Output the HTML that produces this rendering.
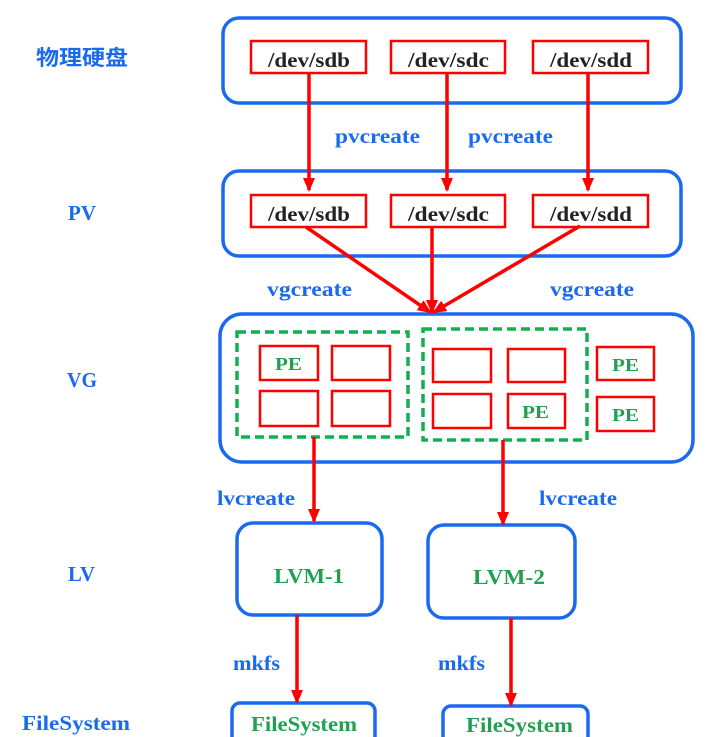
<!DOCTYPE html>
<html><head><meta charset="utf-8"><style>body{margin:0;background:#fff}svg{display:block}</style></head><body>
<svg width="720" height="737" viewBox="0 0 720 737" xmlns="http://www.w3.org/2000/svg" font-family="Liberation Serif, 'Noto Serif CJK SC', serif" font-weight="bold">
<defs><marker id="b" markerWidth="14" markerHeight="12" refX="12" refY="6" orient="auto" markerUnits="userSpaceOnUse"><path d="M0,0 L14,6 L0,12 z" fill="#f00"/></marker></defs>
<g fill="none" stroke="#1a6af0" stroke-width="3.5">
<rect x="223" y="18" width="458" height="85" rx="16"/>
<rect x="223" y="171" width="458" height="85" rx="16"/>
<rect x="220" y="314" width="473" height="148" rx="22"/>
<rect x="237" y="523" width="145" height="92" rx="16"/>
<rect x="428" y="525" width="147" height="93" rx="16"/>
<rect x="232" y="703" width="143" height="50" rx="8"/>
<rect x="443" y="706" width="145" height="50" rx="8"/>
</g>
<g fill="none" stroke="#f00" stroke-width="2.5">
<rect x="251" y="41" width="115" height="32"/><rect x="391" y="41" width="114" height="32"/><rect x="533" y="41" width="115" height="32"/>
<rect x="251" y="195" width="115" height="32"/><rect x="391" y="195" width="114" height="32"/><rect x="533" y="195" width="115" height="32"/>
<rect x="260" y="346" width="58" height="34"/><rect x="332" y="346" width="58" height="34"/>
<rect x="260" y="391" width="58" height="35"/><rect x="332" y="391" width="58" height="35"/>
<rect x="433" y="349" width="58" height="33"/><rect x="508" y="349" width="57" height="33"/>
<rect x="433" y="394" width="58" height="34"/><rect x="508" y="394" width="57" height="34"/>
<rect x="597" y="347" width="57" height="33"/><rect x="597" y="397" width="57" height="34"/>
</g>
<g fill="none" stroke="#10b050" stroke-width="3.5" stroke-dasharray="9,5">
<rect x="237" y="332" width="171" height="105"/><rect x="423" y="329" width="164" height="111"/>
</g>
<g stroke="#f00" stroke-width="3.5" fill="none">
<line x1="309" y1="73" x2="309" y2="190" marker-end="url(#b)"/>
<line x1="447" y1="73" x2="447" y2="190" marker-end="url(#b)"/>
<line x1="588" y1="73" x2="588" y2="190" marker-end="url(#b)"/>
<line x1="306" y1="227" x2="430" y2="312" marker-end="url(#b)"/>
<line x1="432" y1="228" x2="432" y2="312" marker-end="url(#b)"/>
<line x1="580" y1="226" x2="434" y2="312" marker-end="url(#b)"/>
<line x1="314" y1="437" x2="314" y2="521" marker-end="url(#b)"/>
<line x1="503" y1="440" x2="503" y2="524" marker-end="url(#b)"/>
<line x1="297" y1="615" x2="297" y2="702" marker-end="url(#b)"/>
<line x1="511" y1="618" x2="511" y2="705" marker-end="url(#b)"/>
</g>
<g font-size="21" fill="#222" lengthAdjust="spacingAndGlyphs">
<text x="268" y="67" textLength="82" lengthAdjust="spacingAndGlyphs">/dev/sdb</text><text x="408" y="67" textLength="81" lengthAdjust="spacingAndGlyphs">/dev/sdc</text><text x="550" y="67" textLength="82" lengthAdjust="spacingAndGlyphs">/dev/sdd</text>
<text x="268" y="221" textLength="82" lengthAdjust="spacingAndGlyphs">/dev/sdb</text><text x="408" y="221" textLength="81" lengthAdjust="spacingAndGlyphs">/dev/sdc</text><text x="550" y="221" textLength="82" lengthAdjust="spacingAndGlyphs">/dev/sdd</text>
</g>
<g font-size="18" fill="#20a050">
<text x="275" y="370" textLength="27" lengthAdjust="spacingAndGlyphs">PE</text><text x="522" y="418" textLength="27" lengthAdjust="spacingAndGlyphs">PE</text><text x="612" y="371" textLength="27" lengthAdjust="spacingAndGlyphs">PE</text><text x="612" y="421" textLength="27" lengthAdjust="spacingAndGlyphs">PE</text>
</g>
<g font-size="21" fill="#20a050">
<text x="274" y="583" textLength="70" lengthAdjust="spacingAndGlyphs">LVM-1</text><text x="473" y="584" textLength="72" lengthAdjust="spacingAndGlyphs">LVM-2</text>
<text x="251" y="731" textLength="106" lengthAdjust="spacingAndGlyphs">FileSystem</text><text x="466" y="732" textLength="107" lengthAdjust="spacingAndGlyphs">FileSystem</text>
</g>
<g font-size="21" fill="#1a6af0">
<text x="335" y="143" textLength="85" lengthAdjust="spacingAndGlyphs">pvcreate</text><text x="468" y="143" textLength="85" lengthAdjust="spacingAndGlyphs">pvcreate</text>
<text x="267" y="296" textLength="85" lengthAdjust="spacingAndGlyphs">vgcreate</text><text x="550" y="296" textLength="84" lengthAdjust="spacingAndGlyphs">vgcreate</text>
<text x="217" y="505" textLength="78" lengthAdjust="spacingAndGlyphs">lvcreate</text><text x="539" y="505" textLength="78" lengthAdjust="spacingAndGlyphs">lvcreate</text>
<text x="233" y="670" textLength="47" lengthAdjust="spacingAndGlyphs">mkfs</text><text x="438" y="670" textLength="47" lengthAdjust="spacingAndGlyphs">mkfs</text>
<text x="36" y="65" font-family="'Noto Sans CJK SC', sans-serif" font-size="21" textLength="92" lengthAdjust="spacingAndGlyphs">物理硬盘</text>
<text x="68" y="220" textLength="28" lengthAdjust="spacingAndGlyphs">PV</text><text x="67" y="387" textLength="30" lengthAdjust="spacingAndGlyphs">VG</text><text x="68" y="581" textLength="27" lengthAdjust="spacingAndGlyphs">LV</text><text x="22" y="730" textLength="108" lengthAdjust="spacingAndGlyphs">FileSystem</text>
</g>
</svg>
</body></html>
